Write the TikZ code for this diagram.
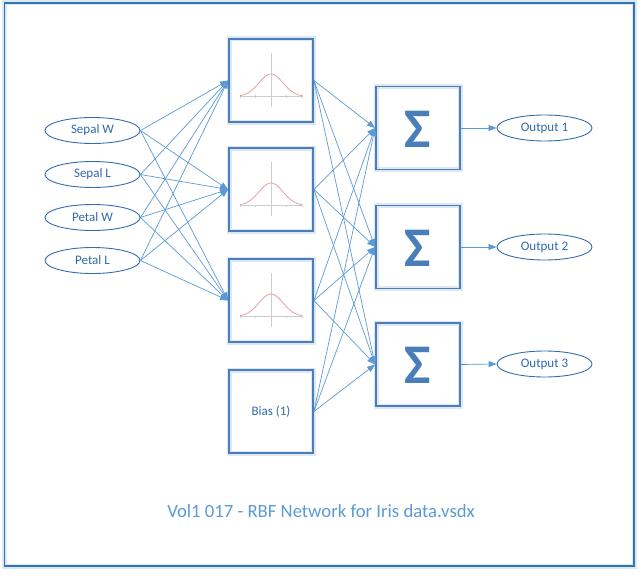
\documentclass[tikz,border=0pt]{standalone}
\usepackage{fontspec}
\setmainfont{Carlito}
\usetikzlibrary{shapes.geometric,arrows.meta}
\definecolor{framec}{RGB}{46,117,182}
\definecolor{boxc}{RGB}{74,126,187}
\definecolor{glowc}{RGB}{222,232,245}
\definecolor{linec}{RGB}{91,155,213}
\definecolor{ellc}{RGB}{52,108,178}
\definecolor{txtc}{RGB}{50,105,175}
\definecolor{titlec}{RGB}{91,155,213}
\definecolor{curvec}{RGB}{232,160,160}
\definecolor{axisc}{RGB}{205,205,205}
\tikzset{
  inell/.style={ellipse, draw=ellc, line width=0.9pt, minimum width=95pt, minimum height=26pt, inner sep=0pt, text=txtc, font=\fontsize{13}{15}\selectfont},
  unitbox/.style={rectangle, draw=boxc, line width=1.8pt, minimum width=84pt, minimum height=83pt, inner sep=0pt,
     preaction={draw=glowc, line width=5pt}},
  conn/.style={draw=linec, line width=0.7pt, -{Triangle[length=8pt,width=6pt]}},
  gaxis/.style={draw=axisc, line width=0.8pt},
  gcurve/.style={draw=curvec, line width=0.8pt},
}
\begin{document}
\begin{tikzpicture}[x=1pt,y=-1pt]
\useasboundingbox (0,0) rectangle (644,575);
\fill[white] (0,0) rectangle (644,575);
\draw[glowc, line width=5pt] (4.5,3) rectangle (634,566);
\draw[framec, line width=1.2pt] (4.5,3) rectangle (634,566);

% inputs
\node[inell] (in1) at (92.5,130.5) {Sepal W};
\node[inell] (in2) at (92.5,174.5) {Sepal L};
\node[inell] (in3) at (92.5,217.5) {Petal W};
\node[inell] (in4) at (92.5,260.5) {Petal L};

% rbf units
\node[unitbox] (rbf1) at (271,80.5) {};
\node[unitbox] (rbf2) at (271,189.5) {};
\node[unitbox] (rbf3) at (271,300.5) {};
\node[unitbox, text=txtc, font=\fontsize{13}{15}\selectfont] (bias) at (271,411.5) {Bias (1)};

\foreach \r in {rbf1,rbf2,rbf3}{
  \begin{scope}[shift={(\r.center)}]
    \draw[gaxis] (-31,16) -- (32,16);
    \draw[gaxis] (0,-27.5) -- (0,26.5);
    \foreach \t in {-31,-15.5,15.5,31} \draw[gaxis, line width=0.5pt] (\t,15) -- (\t,17.5);
    \draw[gcurve] plot[domain=-31:31, samples=60, smooth] (\x,{16-22.5*exp(-(\x/17)^2)});
  \end{scope}
}

% sum units
\node[unitbox] (sum1) at (418,128) {};
\node[unitbox] (sum2) at (418,247) {};
\node[unitbox] (sum3) at (418,364.5) {};
\foreach \s in {sum1,sum2,sum3}{
  \node[text=boxc, font=\fontsize{56}{56}\selectfont\bfseries, inner sep=0pt] at ([yshift=-1pt]\s.center) {Σ};
}

% outputs
\node[inell] (out1) at (544.5,128) {Output 1};
\node[inell] (out2) at (544.5,247) {Output 2};
\node[inell] (out3) at (544.5,364) {Output 3};

% connectors inputs -> rbf
\foreach \i in {in1,in2,in3,in4}{
  \foreach \r in {rbf1,rbf2,rbf3}{
    \draw[conn] (\i.east) -- (\r.west);
  }
}
% rbf -> sum
\foreach \r in {rbf1,rbf2,rbf3,bias}{
  \foreach \s in {sum1,sum2,sum3}{
    \draw[conn] (\r.east) -- (\s.west);
  }
}
% sum -> out
\draw[conn] (sum1.east) -- (out1.west);
\draw[conn] (sum2.east) -- (out2.west);
\draw[conn] (sum3.east) -- (out3.west);

\node[text=titlec, font=\fontsize{18.7}{21}\selectfont] (title) at (321,511) {Vol1 017 - RBF Network for Iris data.vsdx};
\end{tikzpicture}
\end{document}
